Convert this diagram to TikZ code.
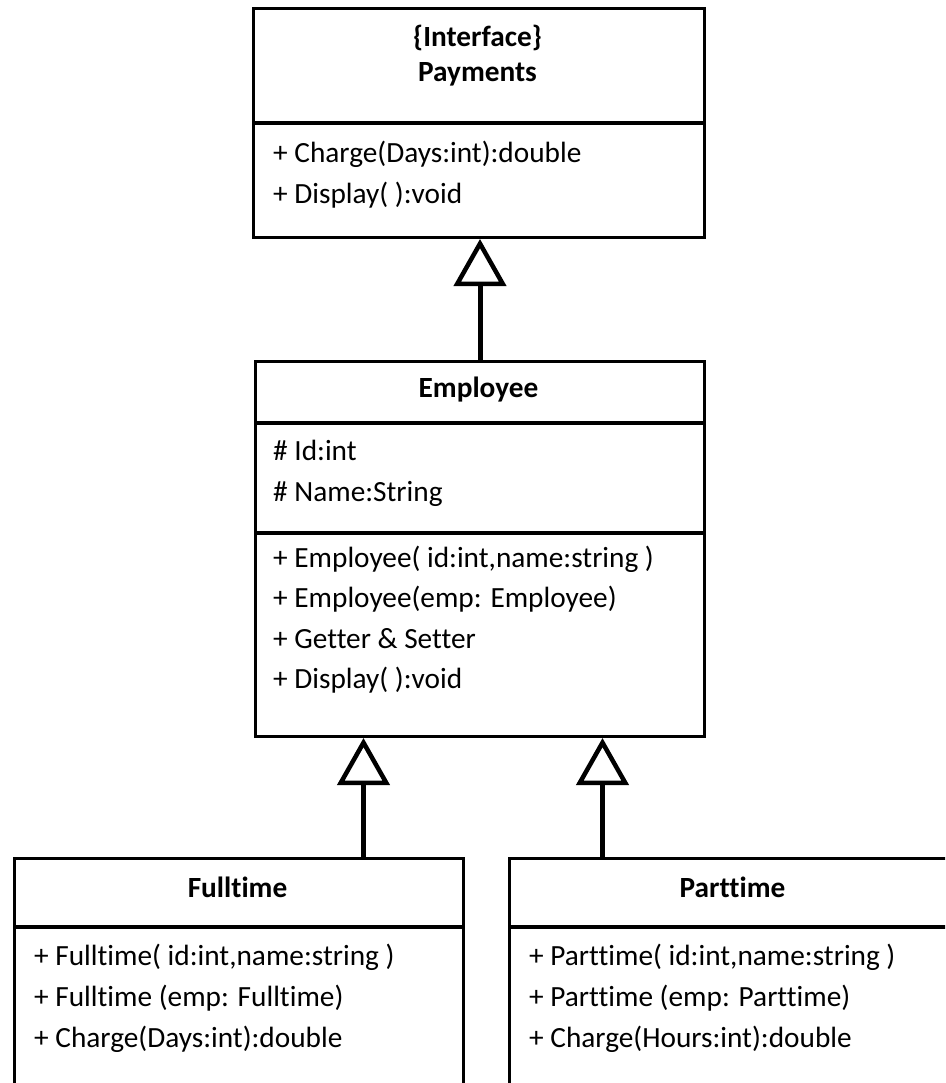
\documentclass[tikz,border=0pt]{standalone}
\usepackage{fontspec}
\setmainfont{Carlito}[Ligatures=NoCommon]
\usetikzlibrary{arrows.meta}
\begin{document}
\begin{tikzpicture}[x=1pt,y=-1pt,
  box/.style={draw, line width=3pt, rectangle, inner sep=0pt, anchor=north west},
  sep/.style={line width=3.5pt},
  item/.style={anchor=base west, inner sep=0pt, font=\fontsize{29.3}{34}\selectfont},
  title/.style={anchor=base, inner sep=0pt, font=\fontsize{29.3}{34}\selectfont\bfseries},
  inh/.style={line width=5pt, -{Triangle[open, length=47pt, width=52pt, line width=4.5pt]}}
]
\useasboundingbox (0,0) rectangle (945,1083);
\fill[white] (0,0) rectangle (945,1083);
\clip (0,0) rectangle (945,1083);

% Payments
\node[box, minimum width=451pt, minimum height=229pt] (pay) at (252,7) {};
\draw[sep] (pay.west |- 0,123) -- (pay.east |- 0,123);
\node[title] (payT1) at (477.5,47) {\{Interface\}};
\node[title] (payT2) at (477.5,82) {Payments};
\node[item] (pay1) at (273,163) {+ Charge(Days:int):double};
\node[item] (pay2) at (273,204) {+ Display( ):void};

% Employee
\node[box, minimum width=449pt, minimum height=375pt] (emp) at (254,360) {};
\draw[sep] (emp.west |- 0,423) -- (emp.east |- 0,423);
\draw[sep] (emp.west |- 0,533) -- (emp.east |- 0,533);
\node[title] (empT) at (478.5,397) {Employee};
\node[item] (emp1) at (273,460) {\# Id:int};
\node[item] (emp2) at (273,501) {\# Name:String};
\node[item] (emp3) at (273,567) {+ Employee( id:int,name:string )};
\node[item] (emp4) at (273,607) {+ Employee(emp: Employee)};
\node[item] (emp5) at (273,648) {+ Getter \& Setter};
\node[item] (emp6) at (273,688) {+ Display( ):void};

% Fulltime
\node[box, minimum width=449pt, minimum height=300pt] (ful) at (13,857) {};
\draw[sep] (ful.west |- 0,927) -- (ful.east |- 0,927);
\node[title] (fulT) at (237.5,897) {Fulltime};
\node[item] (ful1) at (34,965) {+ Fulltime( id:int,name:string )};
\node[item] (ful2) at (34,1006) {+ Fulltime (emp: Fulltime)};
\node[item] (ful3) at (34,1047) {+ Charge(Days:int):double};

% Parttime
\node[box, minimum width=449pt, minimum height=300pt] (prt) at (508,857) {};
\draw[sep] (prt.west |- 0,927) -- (prt.east |- 0,927);
\node[title] (prtT) at (732.5,897) {Parttime};
\node[item] (prt1) at (529,965) {+ Parttime( id:int,name:string )};
\node[item] (prt2) at (529,1006) {+ Parttime (emp: Parttime)};
\node[item] (prt3) at (529,1047) {+ Charge(Hours:int):double};

% Inheritance
\draw[inh] (emp.north) -- (emp.north |- pay.south);
\draw[inh] ([xshift=124.5pt]ful.north) -- ([xshift=-116.5pt]emp.south);
\draw[inh] ([xshift=-131.5pt]prt.north) -- ([xshift=122.5pt]emp.south);
\end{tikzpicture}
\end{document}
